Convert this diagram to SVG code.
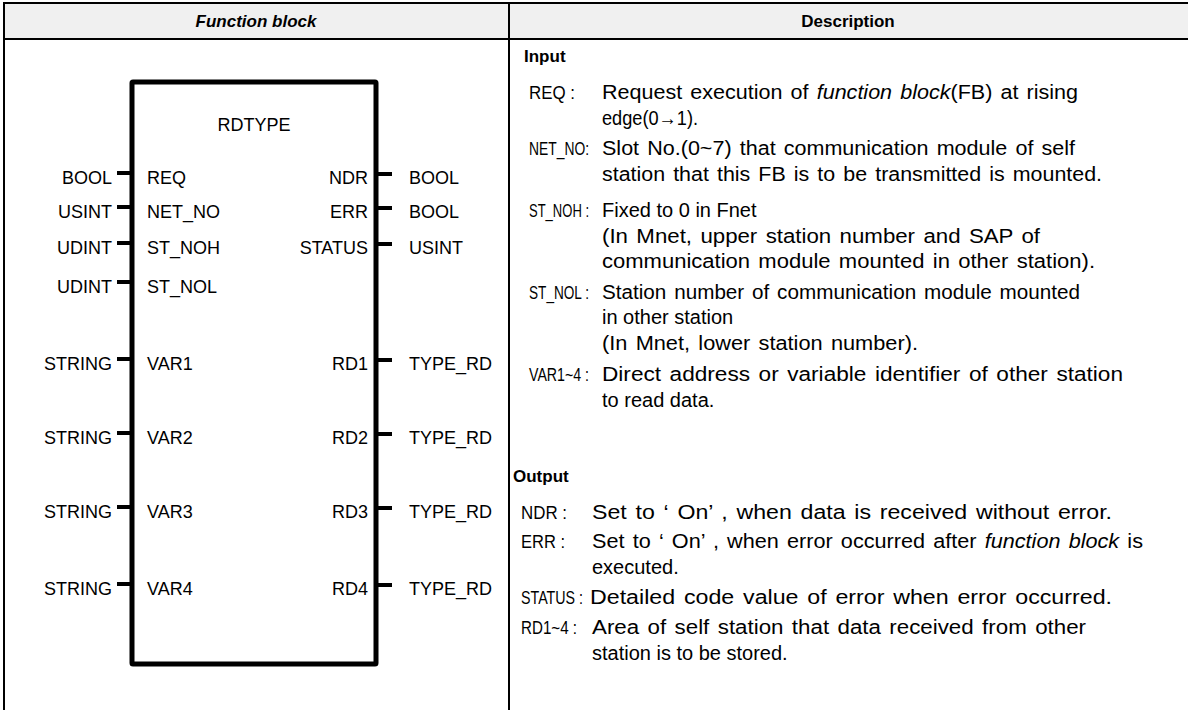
<svg xmlns="http://www.w3.org/2000/svg" width="1188" height="710" viewBox="0 0 1188 710">
<style>
.t{font-family:"Liberation Sans",Arial,sans-serif;font-size:18px;fill:#000}
.d{font-family:"Liberation Sans",Arial,sans-serif;font-size:20px;fill:#000}
.j{word-spacing:2px}
.l{font-family:"Liberation Sans",Arial,sans-serif;font-size:19px;fill:#000}
.h{font-family:"Liberation Sans",Arial,sans-serif;font-size:17px;font-weight:bold;fill:#000}
.i{font-style:italic}
.e{text-anchor:end}
.m{text-anchor:middle}
.grid{stroke:#000;stroke-width:2;fill:none}
.stub{stroke:#000;stroke-width:4;fill:none}
</style>
<rect width="1188" height="710" fill="#fff"/>
<g id="table">
<rect x="4" y="3" width="1190" height="36" fill="#f0f0f0"/>
<line class="grid" x1="4" y1="3" x2="1188" y2="3"/>
<line class="grid" x1="4" y1="39" x2="1188" y2="39"/>
<line class="grid" x1="4" y1="2" x2="4" y2="710"/>
<line class="grid" x1="509" y1="2" x2="509" y2="710"/>
<text class="h i m" x="256" y="27">Function block</text>
<text class="h m" x="848" y="27">Description</text>
</g>
<g id="rdtype-block">
<rect x="132" y="82" width="244" height="582" rx="1" fill="none" stroke="#000" stroke-width="5"/>
<text class="t m" x="254" y="131">RDTYPE</text>
<text class="t" x="147" y="184">REQ</text>
<text class="t" x="147" y="218">NET_NO</text>
<text class="t" x="147" y="254">ST_NOH</text>
<text class="t" x="147" y="293">ST_NOL</text>
<text class="t" x="147" y="370">VAR1</text>
<text class="t" x="147" y="444">VAR2</text>
<text class="t" x="147" y="518">VAR3</text>
<text class="t" x="147" y="595">VAR4</text>
<text class="t e" x="368" y="184">NDR</text>
<text class="t e" x="368" y="218">ERR</text>
<text class="t e" x="368" y="254">STATUS</text>
<text class="t e" x="368" y="370">RD1</text>
<text class="t e" x="368" y="444">RD2</text>
<text class="t e" x="368" y="518">RD3</text>
<text class="t e" x="368" y="595">RD4</text>
</g>
<g id="inputs">
<text class="t e" x="112" y="184">BOOL</text>
<text class="t e" x="112" y="218">USINT</text>
<text class="t e" x="112" y="254">UDINT</text>
<text class="t e" x="112" y="293">UDINT</text>
<text class="t e" x="112" y="370">STRING</text>
<text class="t e" x="112" y="444">STRING</text>
<text class="t e" x="112" y="518">STRING</text>
<text class="t e" x="112" y="595">STRING</text>
</g>
<g id="outputs">
<text class="t" x="409" y="184">BOOL</text>
<text class="t" x="409" y="218">BOOL</text>
<text class="t" x="409" y="254">USINT</text>
<text class="t" x="409" y="370">TYPE_RD</text>
<text class="t" x="409" y="444">TYPE_RD</text>
<text class="t" x="409" y="518">TYPE_RD</text>
<text class="t" x="409" y="595">TYPE_RD</text>
</g>
<g id="connectors">
<line class="stub" x1="117" y1="173" x2="132" y2="173"/>
<line class="stub" x1="117" y1="207" x2="132" y2="207"/>
<line class="stub" x1="117" y1="243" x2="132" y2="243"/>
<line class="stub" x1="117" y1="282" x2="132" y2="282"/>
<line class="stub" x1="117" y1="359" x2="132" y2="359"/>
<line class="stub" x1="117" y1="433" x2="132" y2="433"/>
<line class="stub" x1="117" y1="507" x2="132" y2="507"/>
<line class="stub" x1="117" y1="584" x2="132" y2="584"/>
<line class="stub" x1="376" y1="174" x2="392" y2="174"/>
<line class="stub" x1="376" y1="208" x2="392" y2="208"/>
<line class="stub" x1="376" y1="244" x2="392" y2="244"/>
<line class="stub" x1="376" y1="360" x2="392" y2="360"/>
<line class="stub" x1="376" y1="434" x2="392" y2="434"/>
<line class="stub" x1="376" y1="508" x2="392" y2="508"/>
<line class="stub" x1="376" y1="585" x2="392" y2="585"/>
</g>
<g id="description">
<text class="h" x="524" y="62">Input</text>
<text class="l" x="529" y="99" textLength="46" lengthAdjust="spacingAndGlyphs">REQ :</text>
<text class="d j" x="602" y="99" textLength="476" lengthAdjust="spacingAndGlyphs">Request execution of <tspan class="i">function block</tspan>(FB) at rising</text>
<text class="d" x="602" y="125" textLength="96" lengthAdjust="spacingAndGlyphs">edge(0→1).</text>
<text class="l" x="529" y="155" textLength="60" lengthAdjust="spacingAndGlyphs">NET_NO:</text>
<text class="d j" x="602" y="155" textLength="473" lengthAdjust="spacingAndGlyphs">Slot No.(0~7) that communication module of self</text>
<text class="d j" x="602" y="181" textLength="500" lengthAdjust="spacingAndGlyphs">station that this FB is to be transmitted is mounted.</text>
<text class="l" x="529" y="217" textLength="60" lengthAdjust="spacingAndGlyphs">ST_NOH :</text>
<text class="d" x="602" y="217">Fixed to 0 in Fnet</text>
<text class="d j" x="602" y="243" textLength="438" lengthAdjust="spacingAndGlyphs">(In Mnet, upper station number and SAP of</text>
<text class="d j" x="602" y="268" textLength="493" lengthAdjust="spacingAndGlyphs">communication module mounted in other station).</text>
<text class="l" x="529" y="299" textLength="60" lengthAdjust="spacingAndGlyphs">ST_NOL :</text>
<text class="d j" x="602" y="299" textLength="478" lengthAdjust="spacingAndGlyphs">Station number of communication module mounted</text>
<text class="d" x="602" y="324">in other station</text>
<text class="d j" x="602" y="350" textLength="316" lengthAdjust="spacingAndGlyphs">(In Mnet, lower station number).</text>
<text class="l" x="529" y="381" textLength="60" lengthAdjust="spacingAndGlyphs">VAR1~4 :</text>
<text class="d j" x="602" y="381" textLength="521" lengthAdjust="spacingAndGlyphs">Direct address or variable identifier of other station</text>
<text class="d" x="602" y="407">to read data.</text>
<text class="h" x="513" y="482">Output</text>
<text class="l" x="521" y="519" textLength="46" lengthAdjust="spacingAndGlyphs">NDR :</text>
<text class="d j" x="592" y="519" textLength="520" lengthAdjust="spacingAndGlyphs">Set to ‘ On’ , when data is received without error.</text>
<text class="l" x="521" y="548" textLength="44" lengthAdjust="spacingAndGlyphs">ERR :</text>
<text class="d j" x="592" y="548" textLength="551" lengthAdjust="spacingAndGlyphs">Set to ‘ On’ , when error occurred after <tspan class="i">function block</tspan> is</text>
<text class="d" x="592" y="574">executed.</text>
<text class="l" x="521" y="604" textLength="62" lengthAdjust="spacingAndGlyphs">STATUS :</text>
<text class="d j" x="590" y="604" textLength="522" lengthAdjust="spacingAndGlyphs">Detailed code value of error when error occurred.</text>
<text class="l" x="521" y="634" textLength="56" lengthAdjust="spacingAndGlyphs">RD1~4 :</text>
<text class="d j" x="592" y="634" textLength="494" lengthAdjust="spacingAndGlyphs">Area of self station that data received from other</text>
<text class="d" x="592" y="660">station is to be stored.</text>
</g>
</svg>
